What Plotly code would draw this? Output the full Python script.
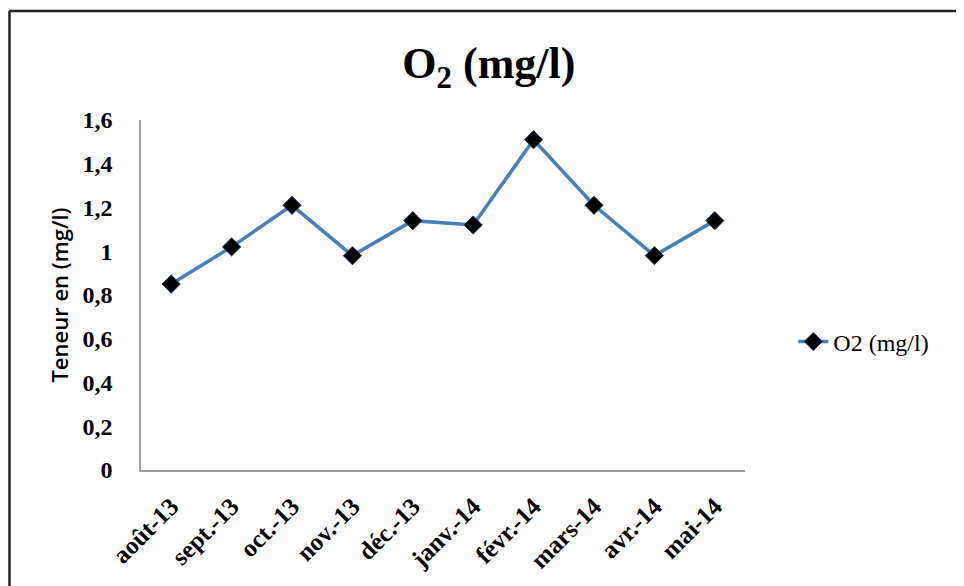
import plotly.graph_objects as go

months = ["août-13", "sept.-13", "oct.-13", "nov.-13", "déc.-13",
          "janv.-14", "févr.-14", "mars-14", "avr.-14", "mai-14"]
o2_values = [0.85, 1.02, 1.21, 0.98, 1.14, 1.12, 1.51, 1.21, 0.98, 1.14]
y_tick_vals = [0, 0.2, 0.4, 0.6, 0.8, 1.0, 1.2, 1.4, 1.6]
y_tick_text = ["0", "0,2", "0,4", "0,6", "0,8", "1", "1,2", "1,4", "1,6"]

W, H = 956, 578
L, T, PW, PH = 133, 112, 604, 350

fig = go.Figure()
fig.add_trace(go.Scatter(
    x=months, y=o2_values, mode="lines+markers", name="O2 (mg/l)",
    line=dict(color="#4A7EBB", width=3.5),
    marker=dict(symbol="diamond", size=14, color="black",
                line=dict(color="#1F3555", width=1)),
))

fig.update_layout(
    width=W, height=H,
    margin=dict(l=L, r=W - L - PW, t=T, b=H - T - PH, pad=0),
    paper_bgcolor="white", plot_bgcolor="white",
    title=dict(text="<b>O<sub>2</sub> (mg/l)</b>", x=0.503, xanchor="center",
               y=1 - 55 / H, yanchor="middle",
               font=dict(family="Liberation Serif", size=44, color="black")),
    showlegend=True,
    legend=dict(x=1.08, y=0.366, xanchor="left", yanchor="middle",
                font=dict(family="Liberation Serif", size=24, color="black"),
                bgcolor="rgba(0,0,0,0)"),
    xaxis=dict(showgrid=False, showline=True, linecolor="#A0A0A0", linewidth=1.5,
               range=[-0.5, len(months) - 0.5],
               tickangle=-45, ticks="", ticklabelstandoff=10,
               tickfont=dict(family="Liberation Serif", size=25, color="black", weight="bold"),
               zeroline=False),
    yaxis=dict(range=[0, 1.6], showgrid=False, showline=True, linecolor="#A0A0A0",
               linewidth=1.5, tickvals=y_tick_vals, ticktext=y_tick_text, ticks="",
               ticklabelstandoff=22,
               tickfont=dict(family="Liberation Serif", size=24, color="black", weight="bold"),
               zeroline=False,
               title=dict(text="Teneur en (mg/l)", standoff=8,
                          font=dict(family="Open Sans", size=22, color="black", weight=600))),
    shapes=[
        dict(type="line", xref="paper", yref="paper",
             x0=(1 - L) / PW, x1=(W + 10 - L) / PW,
             y0=1 + (T - 3) / PH, y1=1 + (T - 3) / PH,
             line=dict(color="#222222", width=2.5)),
        dict(type="line", xref="paper", yref="paper",
             x0=(1.5 - L) / PW, x1=(1.5 - L) / PW,
             y0=1 + (T - 3) / PH, y1=-(H - T - PH + 10) / PH,
             line=dict(color="#222222", width=2.5)),
    ],
)

fig.write_html("out.html")
